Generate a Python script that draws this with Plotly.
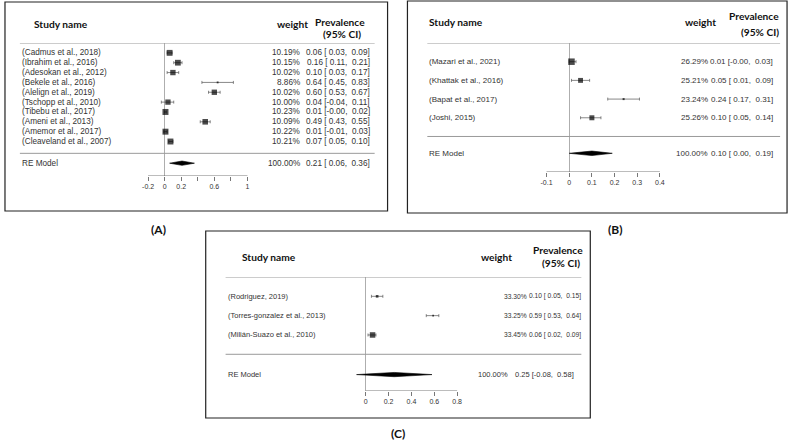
import plotly.graph_objects as go

W, H = 798, 440

# ---------------- Data ----------------
a_studies = ["(Cadmus et al., 2018)", "(Ibrahim et al., 2016)", "(Adesokan et al., 2012)",
             "(Bekele et al., 2016)", "(Alelign et al., 2019)", "(Tschopp et al., 2010)",
             "(Tibebu et al., 2017)", "(Ameni et al., 2013)", "(Amemor et al., 2017)",
             "(Cleaveland et al., 2007)"]
a_est = [0.06, 0.16, 0.10, 0.64, 0.60, 0.04, 0.01, 0.49, 0.01, 0.07]
a_lo = [0.03, 0.11, 0.03, 0.45, 0.53, -0.04, -0.00, 0.43, -0.01, 0.05]
a_hi = [0.09, 0.21, 0.17, 0.83, 0.67, 0.11, 0.02, 0.55, 0.03, 0.10]
a_wt = [10.19, 10.15, 10.02, 8.86, 10.02, 10.00, 10.23, 10.09, 10.22, 10.21]
a_re = [0.21, 0.06, 0.36]
a_re_wt = 100.00
a_ticks = [-0.2, 0, 0.2, 0.4, 0.6, 0.8, 1]
a_ticklabels = ["-0.2", "0", "0.2", "", "0.6", "", "1"]

b_studies = ["(Mazari et al., 2021)", "(Khattak et al., 2016)", "(Bapat et al., 2017)", "(Joshi, 2015)"]
b_est = [0.01, 0.05, 0.24, 0.10]
b_lo = [-0.00, 0.01, 0.17, 0.05]
b_hi = [0.03, 0.09, 0.31, 0.14]
b_wt = [26.29, 25.21, 23.24, 25.26]
b_re = [0.10, 0.00, 0.19]
b_re_wt = 100.00
b_ticks = [-0.1, 0, 0.1, 0.2, 0.3, 0.4]
b_ticklabels = ["-0.1", "0", "0.1", "0.2", "0.3", "0.4"]

c_studies = ["(Rodriguez, 2019)", "(Torres-gonzalez et al., 2013)", "(Milián-Suazo et al., 2010)"]
c_est = [0.10, 0.59, 0.06]
c_lo = [0.05, 0.53, 0.02]
c_hi = [0.15, 0.64, 0.09]
c_wt = [33.30, 33.25, 33.45]
c_re = [0.25, -0.08, 0.58]
c_re_wt = 100.00
c_ticks = [0, 0.2, 0.4, 0.6, 0.8]
c_ticklabels = ["0", "0.2", "0.4", "0.6", "0.8"]

panel_names = ["(A)", "(B)", "(C)"]

# ---------------- Layout constants (pixels) ----------------
panels = [
    dict(studies=a_studies, est=a_est, lo=a_lo, hi=a_hi, wt=a_wt, re=a_re, re_wt=a_re_wt,
         ticks=a_ticks, ticklabels=a_ticklabels, rng=[-0.25, 1.05],
         tick_px=(147, 247), header_px=43, axis_px=176,
         header_y=11, axis_y=-2.5, sep_y=-0.2, re_y=-1.2, dh=0.22,
         label_px=18, line_right=375, wt_right=302, prev_right=372,
         re_wt_right=302, re_prev_right=372,
         lab_fs=8.2, fs=8.2, re_fs=8.2, smax=6, box=(3, 2, 388, 211),
         hdr_study=(30, 24), hdr_wt=(292, 24), hdr_prev=(340, 22), hdr_ci=(342, 34), hfs=10.2,
         tag=(157, 229)),
    dict(studies=b_studies, est=b_est, lo=b_lo, hi=b_hi, wt=b_wt, re=b_re, re_wt=b_re_wt,
         ticks=b_ticks, ticklabels=b_ticklabels, rng=[-0.12, 0.42],
         tick_px=(548, 662), header_px=43, axis_px=172,
         header_y=5, axis_y=-1.9, sep_y=0, re_y=-0.9, dh=0.12,
         label_px=428, line_right=783, wt_right=712, prev_right=778,
         re_wt_right=712, re_prev_right=778,
         lab_fs=8, fs=8, re_fs=8, smax=6.5, box=(408, 1, 790, 213),
         hdr_study=(428, 22), hdr_wt=(703, 22), hdr_prev=(757, 16), hdr_ci=(763, 32), hfs=10.2,
         tag=(617, 229)),
    dict(studies=c_studies, est=c_est, lo=c_lo, hi=c_hi, wt=c_wt, re=c_re, re_wt=c_re_wt,
         ticks=c_ticks, ticklabels=c_ticklabels, rng=[-0.12, 0.82],
         tick_px=(366, 458), header_px=277, axis_px=391,
         header_y=4, axis_y=-1.9, sep_y=0, re_y=-1.05, dh=0.11,
         label_px=225, line_right=583, wt_right=530, prev_right=585,
         re_wt_right=511, re_prev_right=578,
         lab_fs=7.5, fs=6.7, re_fs=7.5, smax=5.5, box=(205, 231, 592, 418),
         hdr_study=(239, 257), hdr_wt=(498, 257), hdr_prev=(560, 250), hdr_ci=(563, 263), hfs=10.2,
         tag=(398, 433)),
]

LABEL_FONT = "Liberation Sans, Arial, sans-serif"
HEAD_FONT = "Lato, Carlito, Calibri, sans-serif"
TXT = "#333333"

fig = go.Figure()
shapes = []
annotations = []
layout_axes = {}


def fmt_ci(e, l, h):
    return f"{e:.2f} [{l:5.2f}, {h:5.2f}]"


for i, p in enumerate(panels):
    n = i + 1
    xs = "" if n == 1 else str(n)
    xref, yref = f"x{xs}", f"y{xs}"
    k = len(p["studies"])
    rows = list(range(k, 0, -1))

    v0, v1 = p["ticks"][0], p["ticks"][-1]
    px0, px1 = p["tick_px"]
    sc = (px1 - px0) / (v1 - v0)
    d0 = px0 - (v0 - p["rng"][0]) * sc
    d1 = px1 + (p["rng"][1] - v1) * sc
    layout_axes[f"xaxis{xs}"] = dict(
        domain=[d0 / W, d1 / W], range=p["rng"], anchor=yref,
        tickvals=p["ticks"], ticktext=p["ticklabels"], ticks="outside",
        ticklen=4, tickwidth=0.8, tickcolor="#555555", showline=False,
        showgrid=False, zeroline=True, zerolinecolor="#9a9a9a", zerolinewidth=0.8,
        tickfont=dict(family=LABEL_FONT, size=7, color=TXT), fixedrange=True)
    layout_axes[f"yaxis{xs}"] = dict(
        domain=[1 - p["axis_px"] / H, 1 - p["header_px"] / H],
        range=[p["axis_y"], p["header_y"]], anchor=xref, visible=False, fixedrange=True)

    wmin, wmax = min(p["wt"]), max(p["wt"])
    sizes = [p["smax"] * (0.45 + (w - wmin) / (wmax - wmin)) / 1.45 for w in p["wt"]]

    fig.add_trace(go.Scatter(
        x=p["est"], y=rows, mode="markers", xaxis=xref, yaxis=yref,
        marker=dict(symbol="square", size=sizes, color="black", line=dict(width=0)),
        error_x=dict(type="data", symmetric=False,
                     array=[h - e for h, e in zip(p["hi"], p["est"])],
                     arrayminus=[e - l for e, l in zip(p["est"], p["lo"])],
                     color="#555555", thickness=0.7, width=1.5),
        showlegend=False, hoverinfo="skip", cliponaxis=False))

    e, l, h = p["re"]
    ry, dh = p["re_y"], p["dh"]
    fig.add_trace(go.Scatter(
        x=[l, e, h, e, l], y=[ry, ry + dh, ry, ry - dh, ry],
        mode="lines", fill="toself", fillcolor="black",
        line=dict(color="black", width=0.6), xaxis=xref, yaxis=yref,
        showlegend=False, hoverinfo="skip"))

    shapes.append(dict(type="line", xref=xref, yref=yref, x0=v0, x1=v1,
                       y0=p["axis_y"], y1=p["axis_y"], line=dict(color="#555555", width=0.8)))
    for yy in (p["header_y"], p["sep_y"]):
        shapes.append(dict(type="line", xref="paper", yref=yref,
                           x0=p["label_px"] / W, x1=p["line_right"] / W, y0=yy, y1=yy,
                           line=dict(color="#9a9a9a", width=1)))
    bx0, by0, bx1, by1 = p["box"]
    shapes.append(dict(type="rect", xref="paper", yref="paper",
                       x0=bx0 / W, x1=bx1 / W, y0=1 - by1 / H, y1=1 - by0 / H,
                       line=dict(color="#222222", width=1.2)))

    labfont = dict(family=LABEL_FONT, size=p["lab_fs"], color=TXT)
    rowfont = dict(family=LABEL_FONT, size=p["fs"], color=TXT)
    refont = dict(family=LABEL_FONT, size=p["re_fs"], color=TXT)
    for r, s, w, e_, l_, h_ in zip(rows, p["studies"], p["wt"], p["est"], p["lo"], p["hi"]):
        annotations.append(dict(xref="paper", yref=yref, x=p["label_px"] / W, y=r,
                                text=s, showarrow=False, xanchor="left", yanchor="middle",
                                font=labfont))
        annotations.append(dict(xref="paper", yref=yref, x=p["wt_right"] / W, y=r,
                                text=f"{w:.2f}%", showarrow=False, xanchor="right",
                                yanchor="middle", font=rowfont))
        annotations.append(dict(xref="paper", yref=yref, x=p["prev_right"] / W, y=r,
                                text=fmt_ci(e_, l_, h_), showarrow=False, xanchor="right",
                                yanchor="middle", font=rowfont))
    annotations.append(dict(xref="paper", yref=yref, x=p["label_px"] / W, y=ry,
                            text="RE Model", showarrow=False, xanchor="left",
                            yanchor="middle", font=refont))
    annotations.append(dict(xref="paper", yref=yref, x=p["re_wt_right"] / W, y=ry,
                            text=f"{p['re_wt']:.2f}%", showarrow=False, xanchor="right",
                            yanchor="middle", font=refont))
    annotations.append(dict(xref="paper", yref=yref, x=p["re_prev_right"] / W, y=ry,
                            text=fmt_ci(e, l, h), showarrow=False, xanchor="right",
                            yanchor="middle", font=refont))

    hfont = dict(family=HEAD_FONT, size=p["hfs"], color="#111111")
    for key, txt, anc in (("hdr_study", "<b>Study name</b>", "left"),
                          ("hdr_wt", "<b>weight</b>", "center"),
                          ("hdr_prev", "<b>Prevalence</b>", "center"),
                          ("hdr_ci", "<b>(95% CI)</b>", "center")):
        hx, hy = p[key]
        annotations.append(dict(xref="paper", yref="paper", x=hx / W, y=1 - hy / H,
                                text=txt, showarrow=False, xanchor=anc, yanchor="middle",
                                font=hfont))
    tx, ty = p["tag"]
    annotations.append(dict(xref="paper", yref="paper", x=tx / W, y=1 - ty / H,
                            text=f"<b>{panel_names[i]}</b>", showarrow=False,
                            xanchor="center", yanchor="middle",
                            font=dict(family=HEAD_FONT, size=12, color="#111111")))

fig.update_layout(
    width=W, height=H, margin=dict(l=0, r=0, t=0, b=0),
    paper_bgcolor="white", plot_bgcolor="rgba(0,0,0,0)",
    shapes=shapes, annotations=annotations, showlegend=False,
    **layout_axes)

fig.write_html("out.html", config={"displayModeBar": False, "staticPlot": True},
               post_script="document.body.style.margin='0px';document.body.style.overflow='hidden';")
